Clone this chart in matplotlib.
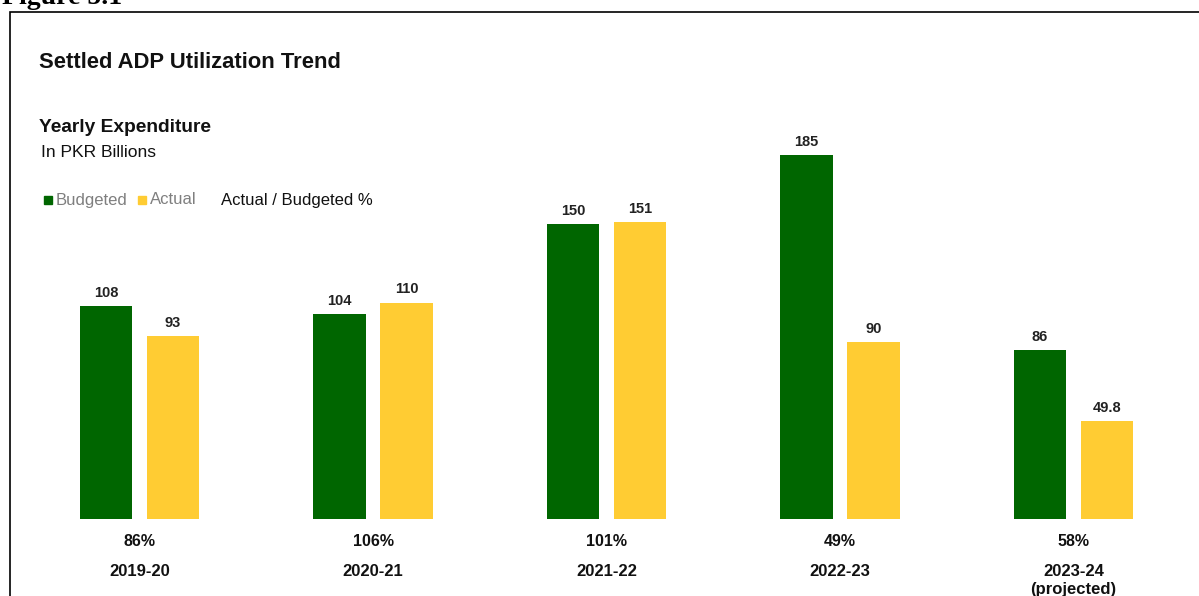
import numpy as np
import matplotlib.pyplot as plt
from matplotlib.patches import Rectangle

years = ['2019-20', '2020-21', '2021-22', '2022-23', '2023-24\n(projected)']
budgeted = [108, 104, 150, 185, 86]
actual = [93, 110, 151, 90, 49.8]
ratio = ['86%', '106%', '101%', '49%', '58%']

green = '#006600'
yellow = '#FFCC33'
plt.rcParams['font.family'] = ['Liberation Sans', 'DejaVu Sans']

W, H = 1199, 596
fig = plt.figure(figsize=(W/100, H/100), dpi=100, facecolor='w')

# axes placed in pixel terms: baseline at y=519, 1 unit ~ 1.968 px
ax = fig.add_axes([22.75/W, 77/H, (1190.25-22.75)/W, 200*1.968/H])
ax.set_xlim(-0.5, 4.5)
ax.set_ylim(0, 200)
ax.axis('off')

x = np.arange(len(years))
off = 0.1435
bw = 0.223
ax.bar(x-off, budgeted, bw, color=green)
ax.bar(x+off, actual, bw, color=yellow)

for i in range(len(years)):
    ax.annotate(f"{budgeted[i]:g}", (x[i]-off, budgeted[i]), xytext=(0, 9.5), textcoords='offset points',
                ha='center', va='center', fontsize=10.5, fontweight='bold', color='#222222')
    ax.annotate(f"{actual[i]:g}", (x[i]+off, actual[i]), xytext=(0, 9.5), textcoords='offset points',
                ha='center', va='center', fontsize=10.5, fontweight='bold', color='#222222')
    ax.annotate(ratio[i], (x[i], 0), xytext=(0, -16), textcoords='offset points',
                ha='center', va='center', fontsize=11.5, fontweight='bold', color='#111111',
                annotation_clip=False)
    ax.annotate(years[i], (x[i], 0), xytext=(0, -32.5), textcoords='offset points',
                ha='center', va='top', fontsize=12, fontweight='bold', color='#111111',
                annotation_clip=False, linespacing=1.2)

# heading texts
fig.text(39/W, 1-63/H, 'Settled ADP Utilization Trend', fontsize=15.8, fontweight='bold',
         va='center', ha='left', color='#111111')
fig.text(39/W, 1-128/H, 'Yearly Expenditure', fontsize=13.8, fontweight='bold',
         va='center', ha='left', color='#111111')
fig.text(41/W, 1-152/H, 'In PKR Billions', fontsize=12.6, va='center', ha='left', color='#111111')

# legend row
fig.patches.append(Rectangle((44/W, 1-204/H), 8/W, 8/H, color=green, transform=fig.transFigure))
fig.text(56/W, 1-200/H, 'Budgeted', fontsize=12, va='center', ha='left', color='#7f7f7f')
fig.patches.append(Rectangle((138/W, 1-204/H), 8/W, 8/H, color=yellow, transform=fig.transFigure))
fig.text(150/W, 1-200/H, 'Actual', fontsize=12, va='center', ha='left', color='#7f7f7f')
fig.text(221/W, 1-200/H, 'Actual / Budgeted %', fontsize=12, va='center', ha='left', color='#111111')

# frame and caption cut at top
fig.patches.append(Rectangle((10/W, -0.1), 1.2, (H-12)/H+0.1, fill=False, lw=1.2,
                             edgecolor='black', transform=fig.transFigure))
fig.text(2/W, 1+3/H, 'Figure 5.1', family=['Liberation Serif', 'DejaVu Serif'],
         fontsize=20, fontweight='bold', va='center', ha='left')

fig.savefig('out.png', dpi=100)
